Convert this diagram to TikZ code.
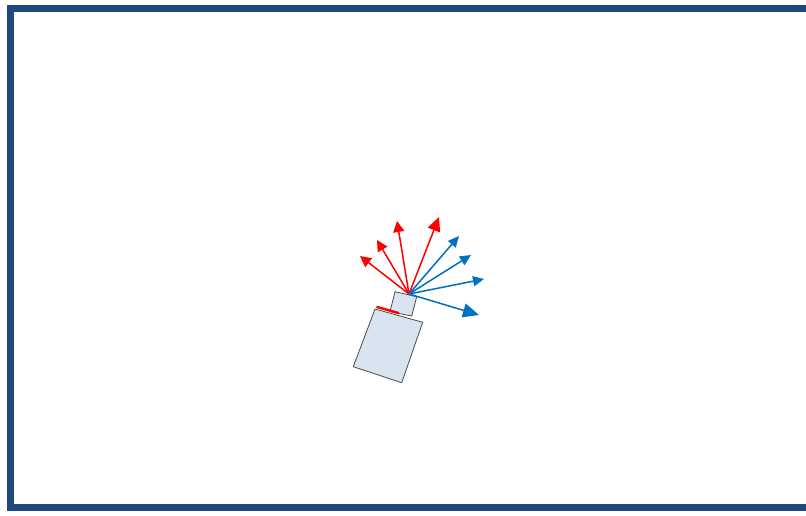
\documentclass[tikz,border=0pt]{standalone}
\usetikzlibrary{arrows.meta}
\definecolor{framec}{HTML}{1F497D}
\definecolor{bodyc}{HTML}{DAE3F0}
\definecolor{redc}{HTML}{FF0000}
\definecolor{bluec}{HTML}{0070C0}
\tikzset{
  camshape/.style={draw=black!70, fill=bodyc, line width=0.8pt, line join=round},
  redray/.style={redc, line width=1.5pt, -{Triangle[length=11pt,width=11pt]}},
  blueray/.style={bluec, line width=1.5pt, -{Triangle[length=11pt,width=10pt]}},
}
\begin{document}
\begin{tikzpicture}[x=1pt,y=-1pt]
\useasboundingbox (0,0) rectangle (806,515);
\clip (0,0) rectangle (806,515);
\fill[white] (0,0) rectangle (806,515);
\draw[framec, line width=7pt] (10.5,8.5) rectangle (830,507);
% camera
\draw[camshape] (395,291.7) -- (416.7,296.7) -- (411.7,316) -- (390,311.7) -- cycle;
\draw[camshape] (375,309) -- (422.7,322.3) -- (401.7,382.7) -- (353.3,366.7) -- cycle;
\draw[redc, line width=2.4pt] (376.5,306.8) -- (399,313.2);
% rays
\coordinate (o) at (409,294);
\coordinate (r1) at (360,256);
\coordinate (r2) at (377,240);
\coordinate (r3) at (397,221);
\coordinate (r4) at (439,217);
\coordinate (b1) at (459,236);
\coordinate (b2) at (471,255);
\coordinate (b3) at (484,279);
\coordinate (b4) at (479,315);
\draw[redray] (o) -- (r1);
\draw[redray] (o) -- (r2);
\draw[redray] (o) -- (r3);
\draw[redray, -{Triangle[length=14pt,width=13pt]}] (o) -- (r4);
\draw[blueray] (o) -- (b1);
\draw[blueray] (o) -- (b2);
\draw[blueray] (o) -- (b3);
\draw[blueray, -{Triangle[length=16pt,width=14pt]}] (o) -- (b4);
\end{tikzpicture}
\end{document}
